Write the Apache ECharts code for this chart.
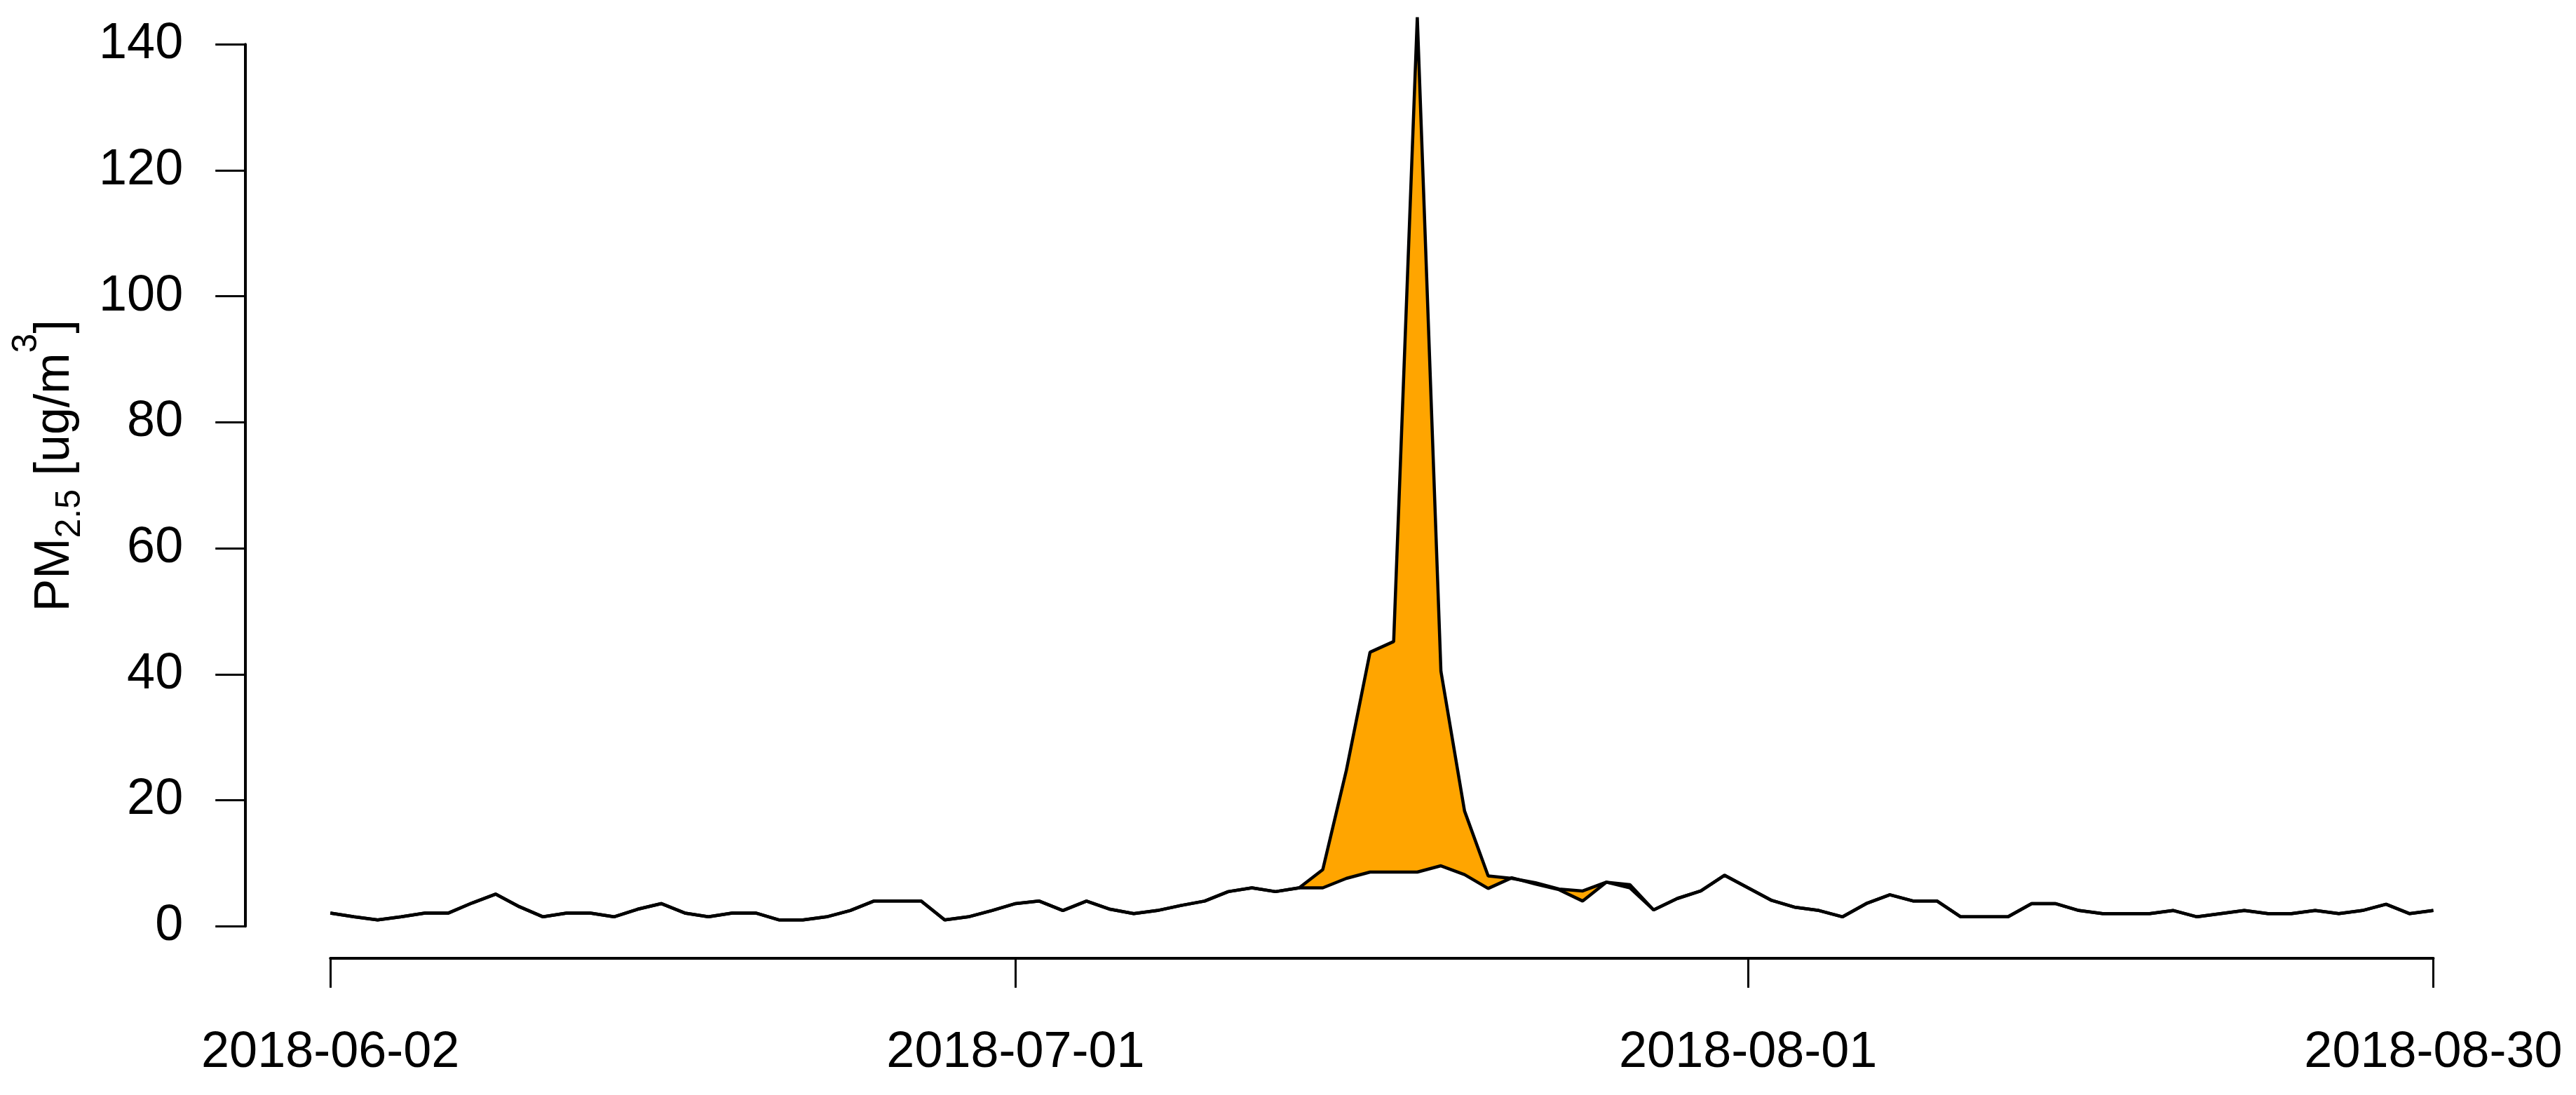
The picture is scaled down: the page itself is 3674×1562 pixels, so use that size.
<!DOCTYPE html>
<html>
<head>
<meta charset="utf-8">
<script src="https://cdn.jsdelivr.net/npm/echarts@6/dist/echarts.min.js"></script>
<style>
html,body{margin:0;padding:0;background:#fff}
#chart{width:3674px;height:1562px}
</style>
</head>
<body>
<div id="chart"></div>
<script>
// daily categories 2018-06-02 .. 2018-08-30
var dates = [];
(function(){
	var d = new Date(Date.UTC(2018, 5, 2));
	for(var i = 0; i < 90; i++){
		dates.push(d.toISOString().slice(0, 10));
		d.setUTCDate(d.getUTCDate() + 1);
	}
})();

var tickDates = ['2018-06-02', '2018-07-01', '2018-08-01', '2018-08-30'];

// lower line (background PM2.5)
var pmBase = [
	2.1, 1.5, 1.0, 1.5, 2.1, 2.1, 3.7, 5.1, 3.1, 1.5,
	2.1, 2.1, 1.5, 2.7, 3.6, 2.1, 1.5, 2.1, 2.1, 1.0,
	1.0, 1.5, 2.5, 4.0, 4.0, 4.0, 1.0, 1.5, 2.5, 3.6,
	4.0, 2.5, 4.0, 2.7, 2.0, 2.5, 3.3, 4.0, 5.5, 6.1,
	5.5, 6.1, 6.1, 7.6, 8.6, 8.6, 8.6, 9.6, 8.2, 6.0,
	7.7, 6.7, 5.8, 4.0, 7.0, 6.1, 2.6, 4.4, 5.6, 8.1,
	6.1, 4.1, 3.0, 2.5, 1.5, 3.6, 5.0, 4.0, 4.0, 1.5,
	1.5, 1.5, 3.6, 3.6, 2.5, 2.0, 2.0, 2.0, 2.5, 1.5,
	2.0, 2.5, 2.0, 2.0, 2.5, 2.0, 2.5, 3.5, 2.0, 2.5
];

// upper line (with the smoke episode)
var pmEvent = [
	2.1, 1.5, 1.0, 1.5, 2.1, 2.1, 3.7, 5.1, 3.1, 1.5,
	2.1, 2.1, 1.5, 2.7, 3.6, 2.1, 1.5, 2.1, 2.1, 1.0,
	1.0, 1.5, 2.5, 4.0, 4.0, 4.0, 1.0, 1.5, 2.5, 3.6,
	4.0, 2.5, 4.0, 2.7, 2.0, 2.5, 3.3, 4.0, 5.5, 6.1,
	5.5, 6.1, 9.0, 24.8, 43.5, 45.2, 144.3, 40.5, 18.3, 8.0,
	7.6, 6.9, 5.9, 5.6, 7.0, 6.6, 2.6, 4.4, 5.6, 8.1,
	6.1, 4.1, 3.0, 2.5, 1.5, 3.6, 5.0, 4.0, 4.0, 1.5,
	1.5, 1.5, 3.6, 3.6, 2.5, 2.0, 2.0, 2.0, 2.5, 1.5,
	2.0, 2.5, 2.0, 2.0, 2.5, 2.0, 2.5, 3.5, 2.0, 2.5
];

var font = '"Liberation Sans", Arial, sans-serif';

// stacked difference so the orange band sits between both lines
var pmDiff = pmEvent.map(function(v, i){ return +(v - pmBase[i]).toFixed(2); });

function isTick(index, value){
	return tickDates.indexOf(value) >= 0;
}

var chart = echarts.init(document.getElementById('chart'), null, {renderer: 'canvas'});
chart.setOption({
	animation: false,
	backgroundColor: '#fff',
	grid: {
		left: 471.2,
		right: 203.5,
		top: 63.3,
		bottom: 240.7,
		outerBoundsMode: 'none'
	},
	xAxis: {
		type: 'category',
		data: dates,
		boundaryGap: false,
		offset: 45.7,
		axisLine: {onZero: false, lineStyle: {color: '#000', width: 4}},
		axisTick: {length: 42, interval: isTick, lineStyle: {color: '#000', width: 3}},
		axisLabel: {interval: isTick, margin: 99, fontSize: 72, color: '#000', fontFamily: font},
		splitLine: {show: false}
	},
	yAxis: {
		type: 'value',
		min: 0,
		max: 140,
		interval: 20,
		offset: 121,
		axisLine: {show: true, onZero: false, lineStyle: {color: '#000', width: 4}},
		axisTick: {show: true, length: 43, lineStyle: {color: '#000', width: 3}},
		axisLabel: {margin: 89, padding: [16, 0, 0, 0], fontSize: 72, color: '#000', fontFamily: font},
		splitLine: {show: false},
		name: '{m|PM}{s|2.5}{m| [ug/m}{p|3}{m|]}',
		nameLocation: 'middle',
		nameRotate: 90,
		nameGap: 211,
		nameTextStyle: {
			padding: [0, 0, 0, 56],
			fontFamily: font,
			rich: {
				m: {fontSize: 70, lineHeight: 120, color: '#000', fontFamily: font},
				s: {fontSize: 50, height: 78, verticalAlign: 'bottom', color: '#000', fontFamily: font},
				p: {fontSize: 50, height: 38, verticalAlign: 'top', color: '#000', fontFamily: font}
			}
		}
	},
	series: [{
		name: 'base',
		type: 'line',
		data: pmBase,
		stack: 'pm',
		stackStrategy: 'all',
		symbol: 'none',
		clip: false,
		z: 3,
		lineStyle: {color: '#000', width: 4.5}
	}, {
		name: 'event',
		type: 'line',
		data: pmDiff,
		stack: 'pm',
		stackStrategy: 'all',
		symbol: 'none',
		clip: false,
		z: 2,
		lineStyle: {color: '#000', width: 4.5},
		areaStyle: {color: '#FFA500', opacity: 1}
	}]
});
</script>
</body>
</html>
